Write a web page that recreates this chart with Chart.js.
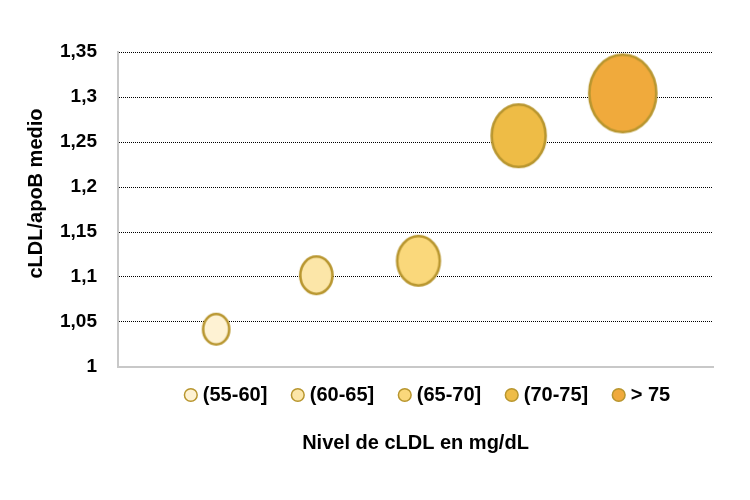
<!DOCTYPE html>
<html>
<head>
<meta charset="utf-8">
<script src="https://cdn.jsdelivr.net/npm/chart.js@4"></script>
<style>
  body { margin: 0; background: #fff; overflow: hidden; }
  canvas { display: block; }
</style>
</head>
<body>
<canvas id="chart" width="750" height="500"></canvas>
<script>
const categories = ['(55-60]', '(60-65]', '(65-70]', '(70-75]', '> 75'];
const xValues = [0.99, 2.0, 3.03, 4.04, 5.09];
const ratioValues = [1.042, 1.102, 1.118, 1.257, 1.304];
const bubbleSizes = [16.5, 20, 26, 32.5, 40];
const yTicks = [1, 1.05, 1.1, 1.15, 1.2, 1.25, 1.3, 1.35];

const fills = ['#fef2d3', '#fce6a8', '#fad87b', '#eebc46', '#f0aa3c'];
const edge = '#b8962f';
const FONT = "'Liberation Sans', Arial, sans-serif";

// bubbles in the original are slightly taller than wide
function ellipseImage(r, fill) {
  const rx = r * 0.87;
  const c = document.createElement('canvas');
  c.width = Math.ceil(rx * 2 + 2);
  c.height = Math.ceil(r * 2 + 2);
  const g = c.getContext('2d');
  g.beginPath();
  g.ellipse(c.width / 2, c.height / 2, rx - 1.3, r - 1.3, 0, 0, Math.PI * 2);
  g.fillStyle = fill;
  g.fill();
  g.lineWidth = 2.6;
  g.strokeStyle = edge;
  g.stroke();
  return c;
}

const datasets = categories.map((c, i) => ({
  label: c,
  data: [{ x: xValues[i], y: ratioValues[i], r: bubbleSizes[i] }],
  backgroundColor: fills[i],
  borderColor: edge,
  borderWidth: 1.5,
  pointStyle: ellipseImage(bubbleSizes[i], fills[i]),
  clip: false
}));

// legend sits a bit closer to the plot and further right than the layout puts it,
// and the y title is drawn a little above the axis middle
const nudges = {
  id: 'nudges',
  afterLayout(chart) {
    const l = chart.legend;
    l.top -= 10.5; l.bottom -= 10.5;
    l.left += 14; l.right += 14;

    const ys = chart.scales.y;
    if (!ys._titleNudged) {
      const drawTitle = ys.drawTitle.bind(ys);
      ys.drawTitle = function () {
        this.ctx.save();
        this.ctx.translate(0, -16);
        drawTitle();
        this.ctx.restore();
      };
      ys._titleNudged = true;
    }
  }
};

new Chart(document.getElementById('chart'), {
  type: 'bubble',
  data: { datasets },
  plugins: [nudges],
  options: {
    responsive: false,
    animation: false,
    layout: { autoPadding: false, padding: { left: 24, right: 37, top: 52, bottom: 0 } },
    scales: {
      x: {
        type: 'linear', min: 0, max: 6,
        ticks: { display: false },
        grid: { display: false, drawTicks: false },
        border: { color: '#c8c8c8', width: 2 },
        afterFit: s => { s.height = 0; }
      },
      y: {
        min: 1, max: 1.35,
        afterBuildTicks: s => { s.ticks = yTicks.map(v => ({ value: v })); },
        afterFit: s => { s.width = 94; },
        ticks: {
          padding: 21,
          color: '#000',
          font: { family: FONT, size: 19, weight: 'bold' },
          callback: v => String(Number(v.toFixed(2))).replace('.', ',')
        },
        grid: {
          drawTicks: false,
          color: c => (c.tick && c.tick.value === 1) ? 'rgba(0,0,0,0)' : '#000',
          lineWidth: 1
        },
        border: { color: '#c8c8c8', width: 2, dash: [1, 1] },
        title: {
          display: true,
          text: 'cLDL/apoB medio',
          color: '#000',
          padding: 0,
          font: { family: FONT, size: 20, weight: 'bold' }
        }
      }
    },
    plugins: {
      tooltip: { enabled: false },
      legend: {
        position: 'bottom',
        fullSize: false,
        labels: {
          usePointStyle: true,
          pointStyle: 'circle',
          boxWidth: 4,
          boxHeight: 9,
          padding: 28.5,
          color: '#000',
          font: { family: FONT, size: 20, weight: 'bold' }
        }
      },
      title: {
        display: true,
        position: 'bottom',
        fullSize: false,
        text: 'Nivel de cLDL en mg/dL',
        color: '#000',
        padding: { top: 5.5, bottom: 45 },
        font: { family: FONT, size: 20, weight: 'bold' }
      }
    }
  }
});
</script>
</body>
</html>
